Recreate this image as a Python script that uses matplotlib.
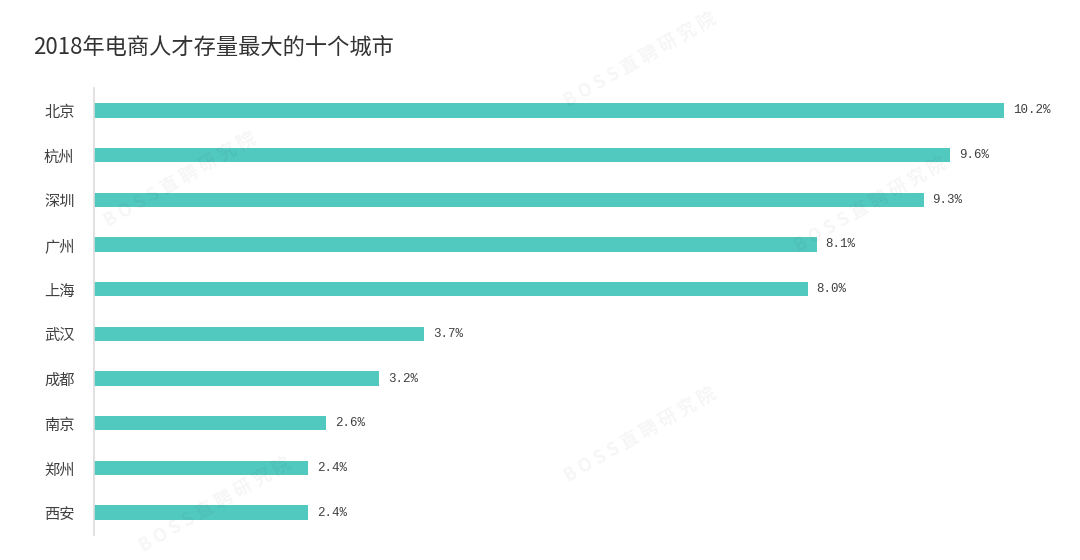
import matplotlib
matplotlib.use('Agg')
import matplotlib.pyplot as plt
import numpy as np

plt.rcParams['font.family'] = ['Noto Sans CJK SC', 'DejaVu Sans']

# data
cities = ['北京', '杭州', '深圳', '广州', '上海', '武汉', '成都', '南京', '郑州', '西安']
share = [10.2, 9.6, 9.3, 8.1, 8.0, 3.7, 3.2, 2.6, 2.4, 2.4]
title = '2018年电商人才存量最大的十个城市'

fig = plt.figure(figsize=(10.8, 5.6), dpi=100)
ax = fig.add_axes([94/1080, 25/560, 960/1080, 447/560])

y = np.arange(len(cities))
ax.barh(y, share, height=0.32, color='#52C9BF')
ax.set_ylim(len(cities) - 0.5, -0.5)
ax.set_xlim(0, 960/89.2)

for yi, v in zip(y, share):
    ax.text(v + 0.1, yi, '%.1f%%' % v, va='center', ha='left',
            fontsize=9, color='#404040', family=['Liberation Mono', 'DejaVu Sans Mono'])

ax.set_yticks(y)
ax.set_yticklabels(cities, fontsize=11, color='#404040')
ax.tick_params(axis='y', length=0, pad=14)
ax.set_xticks([])
for s in ['top', 'right', 'bottom']:
    ax.spines[s].set_visible(False)
ax.spines['left'].set_color('#dcdcdc')
ax.spines['left'].set_linewidth(1.2)

fig.text(33/1080, 1 - 47/560, title, fontsize=16, color='#333333', va='center', ha='left')

# faint watermark
for (wx, wy) in [(180, 180), (640, 60), (870, 205), (640, 435), (215, 505)]:
    fig.text(wx/1080, 1 - wy/560, 'B O S S 直 聘 研 究 院', fontsize=13, color='#000000',
             alpha=0.04, rotation=30, ha='center', va='center', fontweight='bold')

fig.savefig('out.png', dpi=100)
